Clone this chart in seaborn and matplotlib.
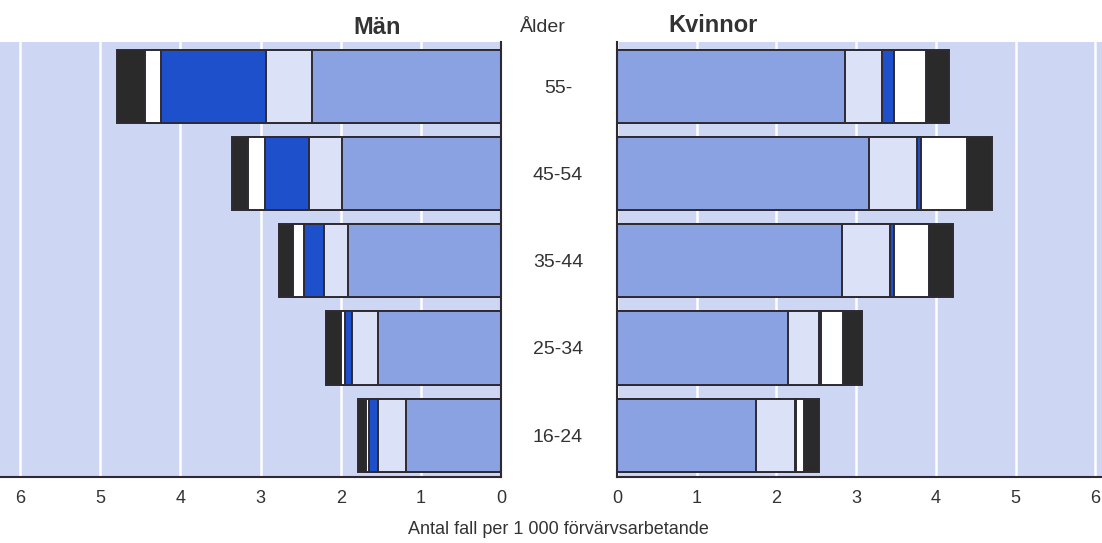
import pandas as pd
import matplotlib
matplotlib.use("Agg")
import matplotlib.pyplot as plt
import seaborn as sns

ages = ["55-", "45-54", "35-44", "25-34", "16-24"]

# segments from the axis outwards
men_medium = [2.36, 1.98, 1.91, 1.54, 1.19]
men_light = [0.57, 0.41, 0.30, 0.32, 0.34]
men_bright = [1.31, 0.56, 0.25, 0.09, 0.12]
men_white = [0.20, 0.20, 0.14, 0.05, 0.03]
men_black = [0.35, 0.20, 0.17, 0.18, 0.10]

women_medium = [2.86, 3.16, 2.82, 2.15, 1.74]
women_light = [0.47, 0.60, 0.60, 0.39, 0.49]
women_bright = [0.14, 0.06, 0.06, 0.02, 0.02]
women_white = [0.41, 0.57, 0.43, 0.27, 0.10]
women_black = [0.28, 0.31, 0.30, 0.25, 0.19]

ticks = [0, 1, 2, 3, 4, 5, 6]

BG = "#cdd6f2"
COLORS = ["#8ba2e2", "#dbe1f6", "#1f50cc", "#ffffff", "#2a2a2a"]
EDGE = "#2e2a33"


def draw_side(ax, parts):
    df = pd.DataFrame({"age": ages})
    cum = [0.0] * len(ages)
    cols = []
    for i, p in enumerate(parts):
        cum = [c + v for c, v in zip(cum, p)]
        df[f"cum{i}"] = cum
        cols.append(f"cum{i}")
    # widest layer first so the inner segments sit on top
    for col, color in reversed(list(zip(cols, COLORS))):
        sns.barplot(data=df, x=col, y="age", orient="h", color=color,
                    saturation=1, edgecolor=EDGE, linewidth=1.4,
                    width=0.84, ax=ax)
    ax.set_facecolor(BG)
    ax.set_ylim(4.48, -0.51)
    ax.set_xticks(ticks)
    ax.set_xticklabels([str(t) for t in ticks])
    ax.grid(axis="x", color="white", linewidth=1.8)
    ax.set_axisbelow(True)
    ax.set_xlabel("")
    ax.set_ylabel("")
    ax.tick_params(axis="x", length=0, pad=9, labelsize=13, labelcolor="#333333")
    for s in ax.spines.values():
        s.set_visible(False)
    ax.spines["bottom"].set_visible(True)
    ax.spines["bottom"].set_color(EDGE)
    ax.spines["bottom"].set_linewidth(1.5)


sns.set_style("white")
plt.rcParams["font.family"] = ["Liberation Sans", "DejaVu Sans"]

fig = plt.figure(figsize=(11.02, 5.43), dpi=100)
ax_m = fig.add_axes([0.0, 0.1215, 0.4546, 0.8012])
ax_w = fig.add_axes([0.5599, 0.1215, 0.4401, 0.8012])

draw_side(ax_m, [men_medium, men_light, men_bright, men_white, men_black])
ax_m.set_xlim(6.25, 0)
ax_m.spines["right"].set_visible(True)
ax_m.spines["right"].set_color(EDGE)
ax_m.spines["right"].set_linewidth(1.5)
ax_m.yaxis.tick_right()
ax_m.tick_params(axis="y", length=0, pad=41, labelsize=14, labelcolor="#333333")
for lbl in ax_m.get_yticklabels():
    lbl.set_horizontalalignment("center")

draw_side(ax_w, [women_medium, women_light, women_bright, women_white, women_black])
ax_w.set_xlim(0, 6.085)
ax_w.spines["left"].set_visible(True)
ax_w.spines["left"].set_color(EDGE)
ax_w.spines["left"].set_linewidth(1.5)
ax_w.set_yticklabels([])
ax_w.tick_params(axis="y", length=0)

fig.text(377 / 1102, 1 - 28 / 543, "Män", ha="center", va="center",
         fontsize=17, fontweight="bold", color="#333333")
fig.text(543 / 1102, 1 - 28 / 543, "Ålder", ha="center", va="center",
         fontsize=14, color="#333333")
fig.text(713 / 1102, 1 - 26 / 543, "Kvinnor", ha="center", va="center",
         fontsize=17, fontweight="bold", color="#333333")
fig.text(558 / 1102, 1 - 530 / 543, "Antal fall per 1 000 förvärvsarbetande",
         ha="center", va="center", fontsize=13, color="#333333")

fig.savefig("out.png", dpi=100)
